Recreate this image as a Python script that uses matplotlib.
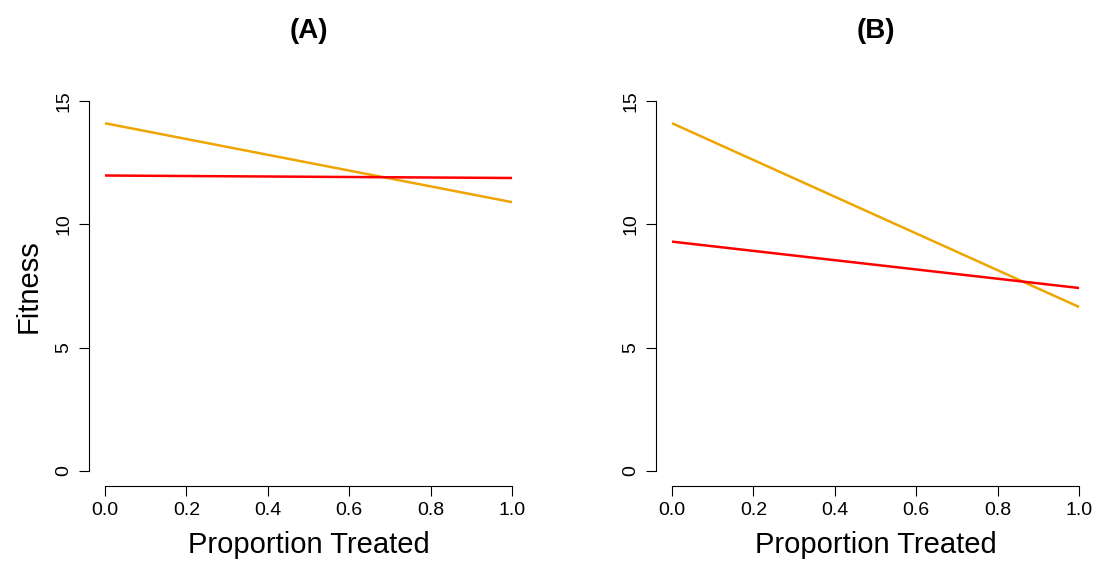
import matplotlib
matplotlib.use("Agg")
import matplotlib.pyplot as plt

plt.rcParams['font.family'] = ['Liberation Sans', 'DejaVu Sans']

x_vals = [0.0, 1.0]
panels = ["(A)", "(B)"]
orange_A = [14.1, 10.9]
red_A = [11.98, 11.88]
orange_B = [14.1, 6.65]
red_B = [9.3, 7.42]
x_ticks = [0.0, 0.2, 0.4, 0.6, 0.8, 1.0]
y_ticks = [0, 5, 10, 15]

fig = plt.figure(figsize=(11.03, 5.61), dpi=100)
lefts = [0.0804, 0.5945]
data = [(orange_A, red_A), (orange_B, red_B)]
for i, (title, (orn, rd)) in enumerate(zip(panels, data)):
    ax = fig.add_axes([lefts[i], 0.134, 0.3986, 0.7123])
    ax.plot(x_vals, orn, color='#EEA500', lw=1.8, solid_capstyle='butt')
    ax.plot(x_vals, rd, color='#FF0000', lw=1.8, solid_capstyle='butt')
    ax.set_xlim(-0.04, 1.04)
    ax.set_ylim(-0.6, 15.6)
    for s in ['top', 'right']:
        ax.spines[s].set_visible(False)
    ax.spines['left'].set_bounds(0, 15)
    ax.spines['bottom'].set_bounds(0, 1)
    ax.set_xticks(x_ticks)
    ax.set_xticklabels([f"{t:.1f}" for t in x_ticks])
    ax.set_yticks(y_ticks)
    ax.set_yticklabels([str(t) for t in y_ticks], rotation=90, va='center')
    ax.tick_params(length=7, width=0.8, labelsize=14, pad=5)
    ax.set_xlabel("Proportion Treated", fontsize=21, labelpad=8)
    if i == 0:
        ax.set_ylabel("Fitness", fontsize=21, labelpad=9)
    ax.set_title(title, fontsize=20, fontweight='bold', pad=35)

fig.savefig("out.png", dpi=100)
